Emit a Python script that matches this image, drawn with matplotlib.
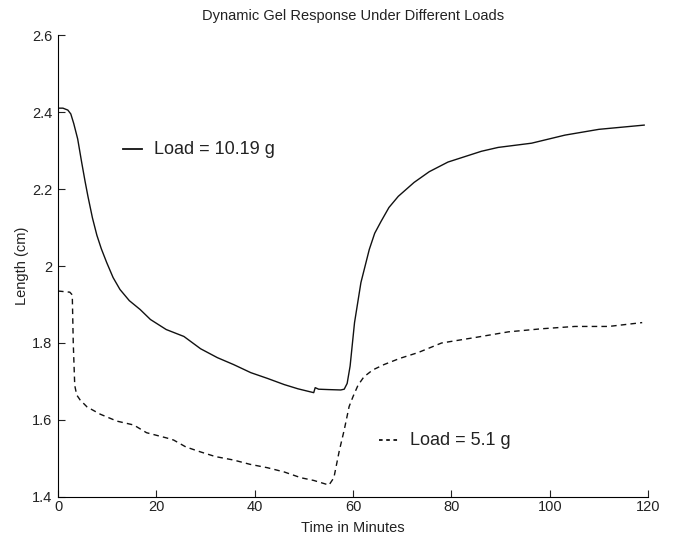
import numpy as np
import matplotlib.pyplot as plt
from matplotlib.ticker import FuncFormatter

plt.rcParams['font.family'] = ['Liberation Sans', 'DejaVu Sans']

# Load = 10.19 g (solid)
t_heavy = [0, 1, 2, 2.6, 3.2, 4.0, 4.8, 5.5, 6.1, 7.0, 7.9, 8.8, 9.9, 11.2, 12.6,
           14.5, 16.7, 18.8, 22, 25.6, 29, 32.4, 35.7, 39.2, 42.6, 46, 48.8, 52,
           52.3, 53, 55, 57.5, 58.2, 58.8, 59.4, 60.3, 61.6, 63.3, 64.4, 65.7, 67.3,
           69.2, 72.4, 75.5, 79.3, 86.1, 89.5, 96.3, 103.1, 110, 119.2]
len_heavy = [2.41, 2.41, 2.405, 2.395, 2.37, 2.33, 2.27, 2.22, 2.18, 2.125, 2.08,
             2.045, 2.009, 1.97, 1.939, 1.91, 1.887, 1.861, 1.835, 1.817, 1.785,
             1.762, 1.744, 1.723, 1.708, 1.692, 1.681, 1.671, 1.684, 1.680, 1.679,
             1.678, 1.680, 1.695, 1.74, 1.853, 1.957, 2.043, 2.085, 2.116, 2.152,
             2.181, 2.217, 2.245, 2.27, 2.298, 2.308, 2.319, 2.34, 2.355, 2.366]

# Load = 5.1 g (dashed)
t_light = [0, 2.4, 2.9, 3.1, 3.4, 3.8, 4.5, 5.9, 8.6, 12, 15.4, 18, 22.2, 23.5, 26,
           29, 32, 35.7, 39, 42.6, 46, 49.4, 52, 55.1, 56.1, 57.2, 58.2, 59.2, 60,
           61, 62.2, 64, 66.3, 69.5, 73.2, 78, 84.7, 91.6, 98.4, 105.1, 112, 118.8]
len_light = [1.935, 1.932, 1.925, 1.80, 1.69, 1.665, 1.652, 1.634, 1.615, 1.597,
             1.587, 1.567, 1.553, 1.548, 1.530, 1.517, 1.505, 1.496, 1.485, 1.476,
             1.465, 1.45, 1.443, 1.431, 1.45, 1.52, 1.574, 1.635, 1.661, 1.69, 1.712,
             1.73, 1.744, 1.76, 1.775, 1.80, 1.814, 1.829, 1.837, 1.843, 1.843, 1.853]

x_ticks = [0, 20, 40, 60, 80, 100, 120]
y_ticks = [1.4, 1.6, 1.8, 2.0, 2.2, 2.4, 2.6]

fig = plt.figure(figsize=(6.73, 5.37), dpi=100)
ax = fig.add_axes([0.0862, 0.0745, 0.8768, 0.8603])

ax.plot(t_heavy, len_heavy, color='#111111', lw=1.0)
ax.plot(t_light, len_light, color='#111111', lw=1.0, linestyle=(0, (4, 3)))

# in-plot legend entries
ax.plot([13.3, 17.1], [2.303, 2.303], color='#111111', lw=1.3)
ax.text(19.6, 2.303, 'Load = 10.19 g', fontsize=13, va='center', ha='left', color='#222222')
ax.plot([65.3, 69.4], [1.548, 1.548], color='#111111', lw=1.3, linestyle=(0, (2, 2)))
ax.text(71.6, 1.548, 'Load = 5.1 g', fontsize=13, va='center', ha='left', color='#222222')

ax.set_xlim(0, 120)
ax.set_ylim(1.4, 2.6)
ax.set_xticks(x_ticks)
ax.set_yticks(y_ticks)
ax.yaxis.set_major_formatter(FuncFormatter(lambda v, p: '%g' % round(v, 2)))
ax.spines['top'].set_visible(False)
ax.spines['right'].set_visible(False)
ax.tick_params(direction='in', length=5, labelsize=10.5, colors='#222222')
ax.tick_params(axis='x', pad=2)
ax.tick_params(axis='y', pad=4)

ax.set_xlabel('Time in Minutes', fontsize=10.5, labelpad=5, color='#222222')
ax.set_ylabel('Length (cm)', fontsize=10.5, labelpad=2, color='#222222')
fig.text(0.525, 0.97, 'Dynamic Gel Response Under Different Loads', fontsize=10.5,
         ha='center', va='center', color='#222222')

fig.savefig('out.png', dpi=100)
